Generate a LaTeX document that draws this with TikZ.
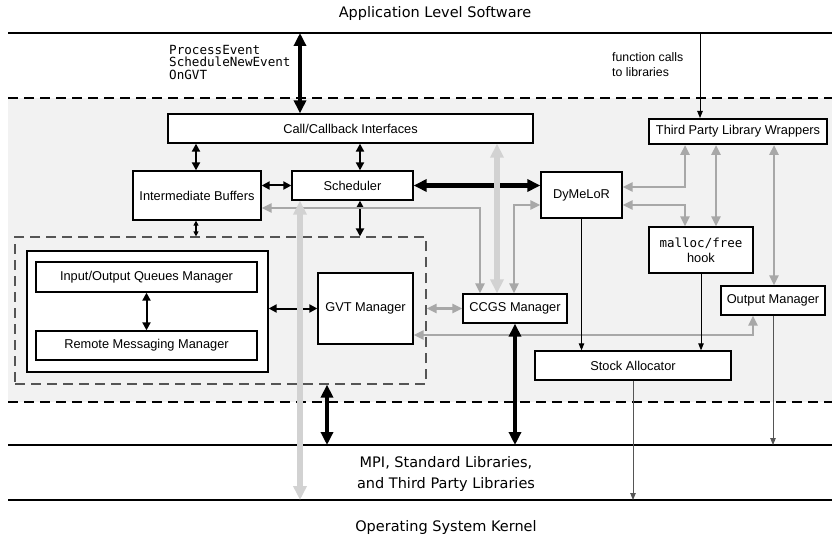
\documentclass[tikz,border=0pt]{standalone}
\usepackage{fontspec}
\setmainfont{Liberation Sans}
\setmonofont{DejaVu Sans Mono}
\newfontfamily\dvsans{DejaVu Sans}
\usetikzlibrary{arrows.meta}
\definecolor{bgg}{HTML}{F2F2F2}
\definecolor{midg}{HTML}{A8A8A8}
\definecolor{lightg}{HTML}{D2D2D2}
\definecolor{darkg}{HTML}{555555}
\begin{document}
\begin{tikzpicture}[x=1pt,y=-1pt,
  box/.style={draw=black, line width=1.3pt, fill=white, inner sep=0pt, align=center,
    font=\fontsize{12.8}{15}\selectfont},
  layerlbl/.style={font=\dvsans\fontsize{14.5}{21}\selectfont, align=center},
  blk/.style={line width=2pt, {Triangle[length=8pt,width=8pt]}-{Triangle[length=8pt,width=8pt]}},
  smallblk/.style={line width=1.2pt, {Triangle[length=5pt,width=5pt]}-{Triangle[length=5pt,width=5pt]}},
  thickblk/.style={line width=4.5pt, {Triangle[length=13pt,width=12pt]}-{Triangle[length=13pt,width=12pt]}},
  garrow/.style={draw=midg, line width=2.5pt, {Triangle[length=10pt,width=9pt]}-{Triangle[length=10pt,width=9pt]}},
  lgarrow/.style={draw=lightg, line width=6pt, {Triangle[length=14pt,width=13pt]}-{Triangle[length=14pt,width=13pt]}},
  thinarrow/.style={line width=0.9pt, -{Triangle[length=7pt,width=5.5pt]}},
  layerline/.style={line width=1.2pt},
  layerdash/.style={line width=1.3pt, dash pattern=on 10pt off 6pt},
]
\useasboundingbox (0,0) rectangle (832,540);
% background band
\fill[bgg] (8,98) rectangle (832,402);
\draw[layerline] (8,33) -- (832,33);
\draw[layerdash] (8,98) -- (832,98);
\draw[layerdash] (8,402) -- (832,402);
\draw[layerline] (8,445) -- (832,445);
\draw[layerline] (8,500) -- (832,500);

% layer labels
\node[layerlbl] (app) at (435,14) {Application Level Software};
\node[layerlbl] (libs) at (446,474) {MPI, Standard Libraries,\\and Third Party Libraries};
\node[layerlbl] (os) at (446,527) {Operating System Kernel};
\node[font=\ttfamily\fontsize{12.6}{12.5}\selectfont, align=left, anchor=north west, inner sep=0pt] (calls) at (169,45) {ProcessEvent\\ScheduleNewEvent\\OnGVT};
\node[font=\fontsize{12.3}{15}\selectfont, align=left, anchor=west, inner sep=0pt] (fc) at (612,65) {function calls\\to libraries};

% dashed group and boxes
\node[draw=darkg, line width=1.2pt, dash pattern=on 10pt off 6pt, minimum width=411pt, minimum height=147pt, inner sep=0pt] (dashbox) at (220.5,310.5) {};
\node[box, minimum width=241pt, minimum height=121pt] (inner) at (147.5,311.5) {};
\node[box, minimum width=221pt, minimum height=30pt] (ioq) at (146.5,277) {Input/Output Queues Manager};
\node[box, minimum width=221pt, minimum height=29pt] (rmm) at (146.5,345.5) {Remote Messaging Manager};
\node[box, minimum width=365pt, minimum height=29pt] (call) at (350.5,128.5) {Call/Callback Interfaces};
\node[box, line width=2pt, minimum width=178pt, minimum height=25pt] (tplw) at (738,131.5) {Third Party Library Wrappers};
\node[box, minimum width=128pt, minimum height=49pt] (ib) at (197,195.5) {Intermediate Buffers};
\node[box, minimum width=121pt, minimum height=29pt] (sched) at (352.5,185.5) {Scheduler};
\node[box, minimum width=81pt, minimum height=46pt] (dym) at (581.5,195) {DyMeLoR};
\node[box, minimum width=104pt, minimum height=46pt] (malloc) at (701,250) {{\ttfamily\fontsize{12.5}{15}\selectfont malloc/free}\\hook};
\node[box, minimum width=104pt, minimum height=29pt] (outm) at (773,300.5) {Output Manager};
\node[box, minimum width=104pt, minimum height=29pt] (ccgs) at (515,308.5) {CCGS Manager};
\node[box, minimum width=196pt, minimum height=29pt] (stock) at (633,365.5) {Stock Allocator};
\node[box, minimum width=95pt, minimum height=71pt] (gvt) at (365.5,308.5) {GVT Manager};

% helper coordinates
\coordinate (aTop) at (300,33);
\coordinate (fcTop) at (700,33);
\coordinate (x196) at (196,0);
\coordinate (x300) at (300,0);
\coordinate (x327) at (327,0);
\coordinate (x360) at (360,0);
\coordinate (x480) at (480,0);
\coordinate (x497) at (497,0);
\coordinate (x514) at (514,0);
\coordinate (x685) at (685,0);
\coordinate (x716) at (716,0);
\coordinate (x753) at (753,0);
\coordinate (x774) at (774,0);
\coordinate (y187) at (0,187);
\coordinate (y205) at (0,205);
\coordinate (y208) at (0,208);
\coordinate (y335) at (0,335);
\coordinate (yL1) at (0,445);
\coordinate (yL2) at (0,500);

% connectors
\draw[thickblk] (aTop) -- (aTop |- call.north);
\draw[thinarrow] (fcTop) -- (fcTop |- tplw.north);
\draw[blk] (x196 |- call.south) -- (x196 |- ib.north);
\draw[blk] (x360 |- call.south) -- (x360 |- sched.north);
\draw[blk] (ib.east |- sched.west) -- (sched.west);
\draw[blk] (x360 |- sched.south) -- (x360 |- dashbox.north);
\draw[smallblk] (x196 |- ib.south) -- (x196 |- dashbox.north);
\draw[thickblk] (sched.east) -- (dym.west |- sched.east);
\draw[garrow] (ib.east |- y208) -| (x480 |- ccgs.north);
\draw[garrow] (x514 |- ccgs.north) |- (dym.west |- y205);
\draw[garrow] (dym.east |- y187) -| (x685 |- tplw.south);
\draw[garrow] (dym.east |- y205) -| (x685 |- malloc.north);
\draw[garrow] (x716 |- tplw.south) -- (x716 |- malloc.north);
\draw[garrow] (x774 |- tplw.south) -- (x774 |- outm.north);
\draw[garrow] (gvt.east |- y335) -| (x753 |- outm.south);
\draw[garrow] (dashbox.east |- ccgs.west) -- (ccgs.west);
\draw[blk] (inner.east |- gvt.west) -- (gvt.west);
\draw[blk] (ioq.south) -- (rmm.north);
\draw[thinarrow] (dym.south) -- (dym.south |- stock.north);
\draw[thinarrow] (malloc.south) -- (malloc.south |- stock.north);
\draw[thinarrow, draw=darkg] (stock.south) -- (stock.south |- yL2);
\draw[thinarrow, draw=darkg] (outm.south) -- (outm.south |- yL1);
\draw[lgarrow] (x497 |- call.south) -- (x497 |- ccgs.north);
\draw[lgarrow] (x300 |- sched.south) -- (x300 |- yL2);
\draw[thickblk] (x327 |- dashbox.south) -- (x327 |- yL1);
\draw[thickblk] (ccgs.south) -- (ccgs.south |- yL1);
\end{tikzpicture}
\end{document}
